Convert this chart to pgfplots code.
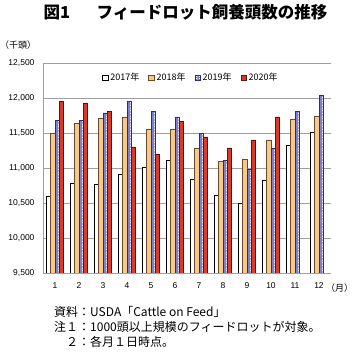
\documentclass[border=0pt]{standalone}
\usepackage{fontspec}
\setmainfont{Liberation Sans}
\newfontfamily\cjk{Noto Sans CJK JP}
\usepackage{pgfplots}
\pgfplotsset{compat=1.18}
\usetikzlibrary{patterns.meta}
\definecolor{c18}{HTML}{F6C88A}
\definecolor{b18}{HTML}{6B4A2A}
\definecolor{c20}{HTML}{DA3A2A}
\definecolor{b20}{HTML}{5A1410}
\definecolor{b19}{HTML}{2A2F6E}
\definecolor{p19}{HTML}{7A7ED8}
\begin{document}
\begin{tikzpicture}
\path[use as bounding box] (0,0) rectangle (357pt,354pt);
\begin{axis}[
  at={(43pt,81pt)}, anchor=south west, scale only axis,
  width=288pt, height=210pt,
  xmin=0.5, xmax=12.5, ymin=9500, ymax=12500,
  ytick={9500,10000,...,12500}, xtick={1,...,12},
  scaled y ticks=false,
  ymajorgrids, grid style={gray!75, line width=0.6pt},
  axis x line*=bottom, axis y line*=left,
  axis line style={gray!75, line width=0.6pt, -},
  major tick length=0pt,
  /pgf/number format/fixed,
  /pgf/number format/1000 sep={,},
  /pgf/number format/assume math mode=true,
  ticklabel style={font=\fontsize{8.5}{10}\selectfont},
  yticklabel style={xshift=-5pt},
  xticklabel style={yshift=-6pt},
  legend columns=4,
  legend style={at={(0.514,0.93)}, anchor=center, draw=none, fill=none,
    font=\cjk\fontsize{9}{10}\selectfont,
    /tikz/every even column/.append style={column sep=7pt}},
  legend image code/.code={\draw[#1] (0pt,-2.6pt) rectangle (5.4pt,2.6pt);},
]
\addplot[ybar, bar width=0.18, bar shift=-0.27, draw=black, fill=white, line width=0.7pt]
 coordinates {(1,10600) (2,10786) (3,10771) (4,10914) (5,11004) (6,11104) (7,10833) (8,10605) (9,10500) (10,10819) (11,11329) (12,11514)};
\addplot[ybar, bar width=0.18, bar shift=-0.09, draw=b18, fill=c18, line width=0.7pt]
 coordinates {(1,11490) (2,11637) (3,11714) (4,11729) (5,11557) (6,11557) (7,11286) (8,11100) (9,11128) (10,11400) (11,11700) (12,11743)};
\addplot[ybar, bar width=0.18, bar shift=0.09, draw=b19, fill=white, line width=0.7pt,
  postaction={pattern={Hatch[distance=1.6pt, angle=0, line width=0.3pt]}, pattern color=p19}]
 coordinates {(1,11680) (2,11680) (3,11786) (4,11957) (5,11814) (6,11729) (7,11490) (8,11114) (9,10986) (10,11281) (11,11814) (12,12043)};
\addplot[ybar, bar width=0.18, bar shift=0.27, draw=b20, fill=c20, line width=0.7pt]
 coordinates {(1,11957) (2,11928) (3,11814) (4,11300) (5,11200) (6,11671) (7,11443) (8,11286) (9,11400) (10,11729)};
\legend{2017年,2018年,2019年,2020年}
\end{axis}
\node[anchor=center, font=\cjk\bfseries\fontsize{16.5}{18}\selectfont] at (185.5pt,342pt) {図1\hspace{1.6em}フィードロット飼養頭数の推移};
\node[anchor=west, inner sep=0pt, font=\cjk\fontsize{9}{10}\selectfont] at (0pt,309pt) {（千頭）};
\node[anchor=west, inner sep=0pt, font=\cjk\fontsize{9}{10}\selectfont] at (326pt,66pt) {（月）};
\node[anchor=west, inner sep=0pt, font=\cjk\fontsize{12}{13}\selectfont] at (54pt,42pt) {資料：USDA「Cattle on Feed」};
\node[anchor=west, inner sep=0pt, font=\cjk\fontsize{12}{13}\selectfont] at (54pt,27pt) {注１：1000頭以上規模のフィードロットが対象。};
\node[anchor=west, inner sep=0pt, font=\cjk\fontsize{12}{13}\selectfont] at (54pt,12pt) {\phantom{注}２：各月１日時点。};
\end{tikzpicture}
\end{document}
